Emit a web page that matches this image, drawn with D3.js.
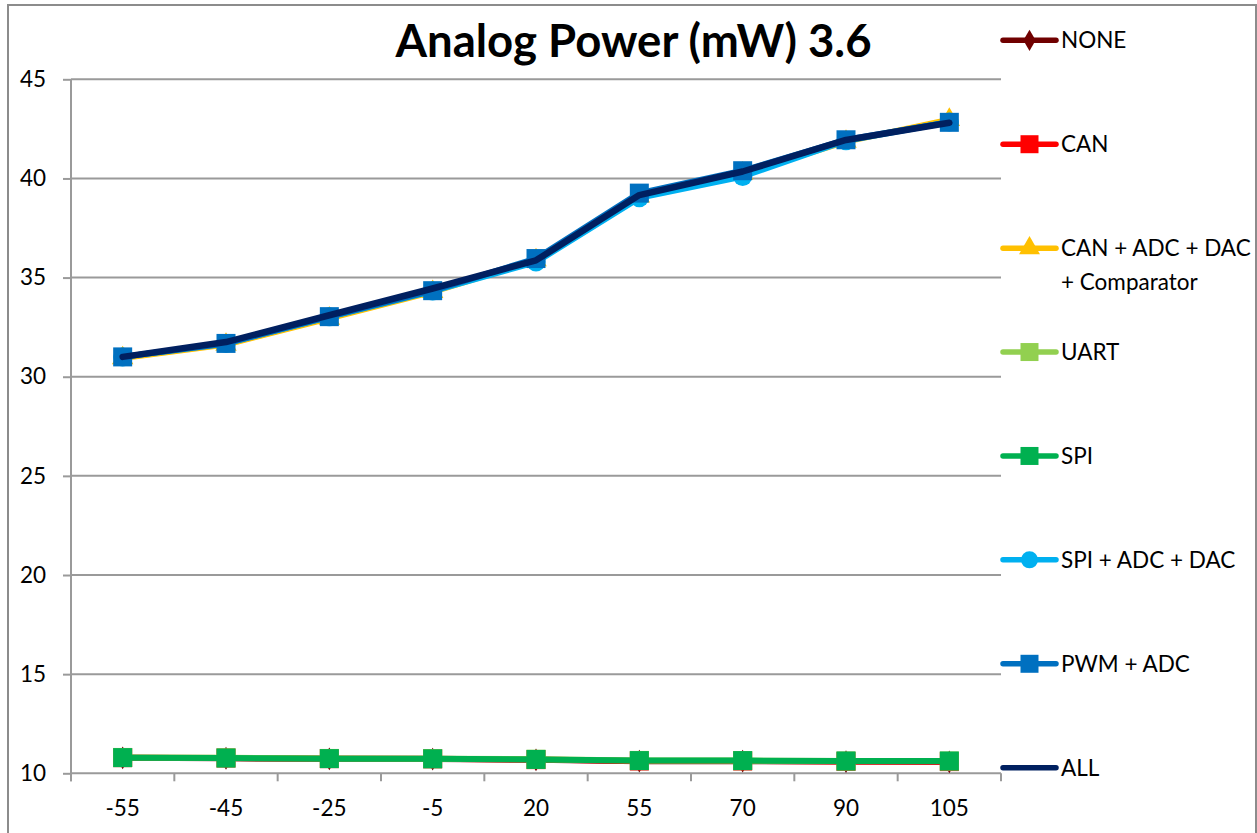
<!DOCTYPE html>
<html>
<head>
<meta charset="utf-8">
<script src="https://cdn.jsdelivr.net/npm/d3@7"></script>
<style>
  body { margin: 0; background: #fff; }
  text { font-family: Lato, "Open Sans", sans-serif; fill: #000; }
</style>
</head>
<body>
<div id="chart"></div>
<script>
//Categories (temperature) and series values
var categories = ["-55", "-45", "-25", "-5", "20", "55", "70", "90", "105"];
var yTicks = [10, 15, 20, 25, 30, 35, 40, 45];

var none      = [10.78, 10.76, 10.73, 10.72, 10.68, 10.61, 10.61, 10.59, 10.58];
var can       = [10.79, 10.77, 10.74, 10.73, 10.69, 10.62, 10.62, 10.60, 10.59];
var canAdcDac = [30.94, 31.62, 32.94, 34.28, 35.88, 39.10, 40.25, 41.86, 42.96];
var uart      = [10.80, 10.78, 10.75, 10.74, 10.71, 10.65, 10.64, 10.62, 10.62];
var spi       = [10.79, 10.77, 10.74, 10.73, 10.70, 10.64, 10.64, 10.62, 10.62];
var spiAdcDac = [31.00, 31.68, 33.02, 34.32, 35.78, 39.02, 40.10, 41.90, 42.85];
var pwmAdc    = [31.00, 31.68, 33.03, 34.34, 35.96, 39.26, 40.39, 41.95, 42.83];
var all       = [31.00, 31.75, 33.10, 34.45, 35.87, 39.16, 40.35, 41.94, 42.81];

var seriesNames = ["NONE", "CAN", "CAN + ADC + DAC|+ Comparator", "UART", "SPI",
                   "SPI + ADC + DAC", "PWM + ADC", "ALL"];
var seriesValues = [none, can, canAdcDac, uart, spi, spiAdcDac, pwmAdc, all];
var seriesColors = ["#700000", "#FF0000", "#FFC000", "#92D050", "#00B050",
                    "#00B0F0", "#0070C0", "#002060"];
var seriesMarkers = ["diamond", "square", "triangle", "square", "square",
                     "circle", "square", "none"];

///////////////////////////////////////////////////////////////////////////
///////////////////////////// Set up the SVG //////////////////////////////
///////////////////////////////////////////////////////////////////////////

var width = 1257,
	height = 833,
	plot = {left: 71, right: 1001, top: 79.3, bottom: 773.3};

var svg = d3.select("#chart").append("svg")
	.attr("width", width)
	.attr("height", height);

//Chart border
svg.append("rect")
	.attr("x", 8).attr("y", 5)
	.attr("width", 1248).attr("height", 860)
	.style("fill", "#fff")
	.style("stroke", "#8c8c8c")
	.style("stroke-width", 2);

var x = d3.scaleBand().domain(categories).range([plot.left, plot.right]).padding(0);
var y = d3.scaleLinear().domain([10, 45]).range([plot.bottom, plot.top]);
var cx = function(c) { return x(c) + x.bandwidth() / 2; };

//Title
svg.append("text")
	.attr("x", 633.5).attr("y", 56.7)
	.attr("text-anchor", "middle")
	.style("font-size", "45.5px")
	.style("font-weight", "bold")
	.text("Analog Power (mW) 3.6");

///////////////////////////////////////////////////////////////////////////
///////////////////////////////// Axes ////////////////////////////////////
///////////////////////////////////////////////////////////////////////////

//Horizontal gridlines
svg.append("g").selectAll("line")
	.data(yTicks.slice(1)).enter().append("line")
	.attr("x1", plot.left).attr("x2", plot.right)
	.attr("y1", function(d) { return y(d); })
	.attr("y2", function(d) { return y(d); })
	.style("stroke", "#9a9a9a")
	.style("stroke-width", 2);

//Y axis
var yAxis = svg.append("g")
	.attr("transform", "translate(" + plot.left + ",0)")
	.call(d3.axisLeft(y).tickValues(yTicks).tickSize(8).tickPadding(17));
yAxis.select(".domain").remove();
yAxis.selectAll(".tick line").style("stroke", "#9a9a9a").style("stroke-width", 2);
yAxis.selectAll(".tick text")
	.style("font-size", "22.5px")
	.style("font-family", "Lato, sans-serif")
	.attr("fill", "#000");
yAxis.append("line")
	.attr("x1", 0).attr("x2", 0)
	.attr("y1", plot.top).attr("y2", plot.bottom + 8)
	.style("stroke", "#9a9a9a").style("stroke-width", 2);

//X axis: ticks between categories
var xAxis = svg.append("g")
	.attr("transform", "translate(0," + plot.bottom + ")");
xAxis.append("line")
	.attr("x1", plot.left).attr("x2", plot.right)
	.style("stroke", "#9a9a9a").style("stroke-width", 2);
var bounds = categories.map(function(c) { return x(c); }).concat([plot.right]);
xAxis.selectAll("line.xtick")
	.data(bounds).enter().append("line")
	.attr("class", "xtick")
	.attr("x1", function(d) { return d; }).attr("x2", function(d) { return d; })
	.attr("y1", 0).attr("y2", 8)
	.style("stroke", "#9a9a9a").style("stroke-width", 2);
xAxis.selectAll("text")
	.data(categories).enter().append("text")
	.attr("x", function(d) { return cx(d); })
	.attr("y", 43)
	.attr("text-anchor", "middle")
	.style("font-size", "22.5px")
	.text(function(d) { return d; });

///////////////////////////////////////////////////////////////////////////
///////////////////////////// Lines & markers /////////////////////////////
///////////////////////////////////////////////////////////////////////////

var symbolType = {
	square: d3.symbolSquare, circle: d3.symbolCircle,
	triangle: d3.symbolTriangle, diamond: d3.symbolDiamond
};
var symbolSize = {square: 19 * 19, circle: Math.PI * 9.5 * 9.5, triangle: 200, diamond: 150};
var legendSize = {square: 18 * 18, circle: Math.PI * 8.5 * 8.5, triangle: 190, diamond: 130};

var line = d3.line()
	.x(function(d, i) { return cx(categories[i]); })
	.y(function(d) { return y(d); });

var seriesG = svg.append("g").selectAll("g.series")
	.data(seriesValues).enter().append("g")
	.attr("class", "series");

seriesG.append("path")
	.attr("d", function(d) { return line(d); })
	.style("fill", "none")
	.style("stroke", function(d, i) { return seriesColors[i]; })
	.style("stroke-width", function(d, i) { return i === 7 ? 6.5 : 6; })
	.style("stroke-linejoin", "round")
	.style("stroke-linecap", "round");

seriesG.each(function(vals, i) {
	if (seriesMarkers[i] === "none") return;
	var sym = d3.symbol().type(symbolType[seriesMarkers[i]]).size(symbolSize[seriesMarkers[i]]);
	d3.select(this).selectAll("path.marker")
		.data(vals).enter().append("path")
		.attr("class", "marker")
		.attr("d", sym)
		.attr("transform", function(d, j) {
			return "translate(" + cx(categories[j]) + "," + y(d) + ")";
		})
		.style("fill", seriesColors[i]);
});

///////////////////////////////////////////////////////////////////////////
//////////////////////////////// Legend ///////////////////////////////////
///////////////////////////////////////////////////////////////////////////

var legendY = d3.scaleLinear().domain([0, 7]).range([40.3, 767.7]);
var legend = svg.append("g").selectAll("g.legend")
	.data(seriesNames).enter().append("g")
	.attr("class", "legend")
	.attr("transform", function(d, i) { return "translate(0," + legendY(i) + ")"; });

legend.append("line")
	.attr("x1", 1003).attr("x2", 1056)
	.style("stroke", function(d, i) { return seriesColors[i]; })
	.style("stroke-width", 5.5)
	.style("stroke-linecap", "round");

legend.each(function(d, i) {
	if (seriesMarkers[i] === "none") return;
	d3.select(this).append("path")
		.attr("d", d3.symbol().type(symbolType[seriesMarkers[i]]).size(legendSize[seriesMarkers[i]]))
		.attr("transform", "translate(1029.5,0)")
		.style("fill", seriesColors[i]);
});

legend.append("text")
	.attr("x", 1061)
	.attr("y", 8)
	.style("font-size", "22.5px")
	.each(function(d) {
		var parts = d.split("|");
		var t = d3.select(this);
		parts.forEach(function(p, k) {
			t.append("tspan").attr("x", 1061).attr("dy", k === 0 ? 0 : 34).text(p);
		});
	});
</script>
</body>
</html>
